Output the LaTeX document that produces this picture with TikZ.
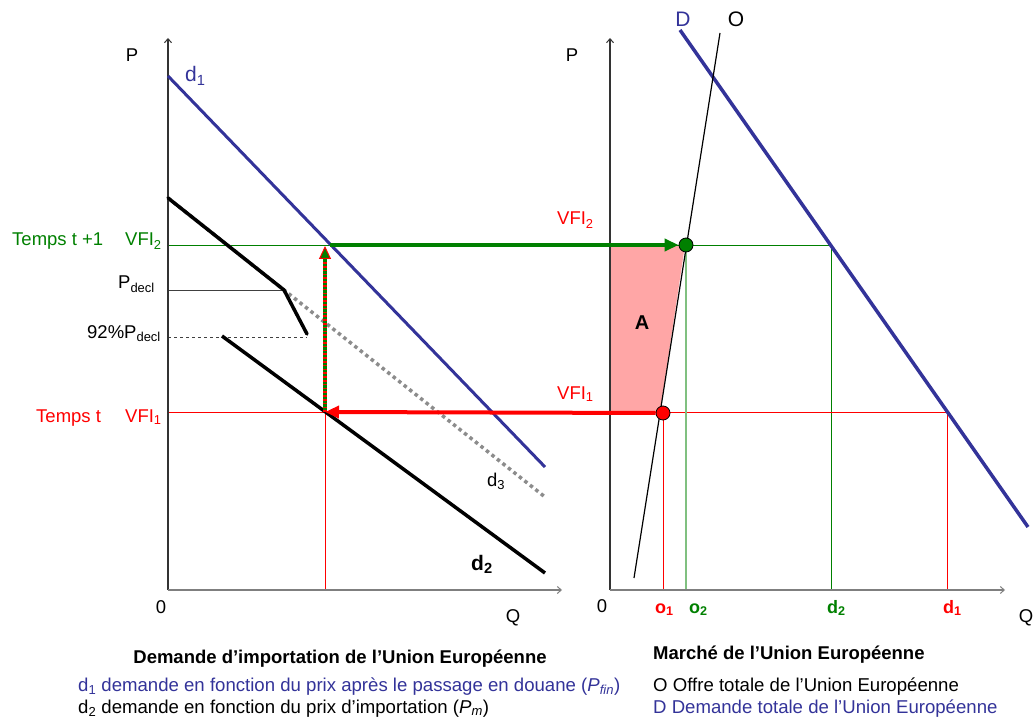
\documentclass[tikz,border=0pt]{standalone}
\usepackage{fontspec}
\setmainfont{Liberation Sans}
\usetikzlibrary{arrows.meta}
\definecolor{dblue}{HTML}{333399}
\definecolor{dgreen}{HTML}{008000}
\definecolor{lgreen}{HTML}{80C080}
\definecolor{vred}{HTML}{FF0000}
\definecolor{paleA}{HTML}{FFA6A6}
\definecolor{axisgray}{HTML}{7F7F7F}
\definecolor{dotgray}{HTML}{8C8C8C}
\newcommand{\ix}[1]{\textsubscript{#1}}
\tikzset{
  lbl/.style={inner sep=0pt,font=\fontsize{18.5}{20}\selectfont},
  big/.style={inner sep=0pt,font=\fontsize{21}{23}\selectfont},
  title/.style={lbl,font=\fontsize{18.5}{20}\selectfont\bfseries},
  legend/.style={lbl,anchor=base west,font=\fontsize{18.6}{20}\selectfont},
  qlbl/.style={lbl,anchor=base west,font=\fontsize{18}{20}\selectfont\bfseries},
  axis/.style={draw=axisgray,line width=1.2pt,-{Straight Barb[length=4pt,width=7pt,line width=1pt]}},
  guide/.style={line width=0.8pt},
  demand/.style={draw=dblue,line width=3pt},
  bold/.style={draw=black,line width=3.5pt},
  dotted3/.style={draw=dotgray,line width=3.5pt,dash pattern=on 3.5pt off 3.5pt},
  garr/.style={draw=dgreen,line width=4pt,-{Triangle[length=14pt,width=12pt]}},
  rarr/.style={draw=vred,line width=4pt,-{Triangle[length=14pt,width=12pt]}},
  eq/.style={circle,minimum size=14pt,inner sep=0pt,draw=black,line width=0.8pt},
}
\begin{document}
\begin{tikzpicture}[x=1pt,y=-1pt]
  \useasboundingbox (0,0) rectangle (1033,719);
  % --- points, left panel
  \coordinate (lo) at (168,590); \coordinate (lp) at (168,38); \coordinate (lq) at (562,590);
  \coordinate (d1a) at (168,76); \coordinate (d1b) at (545,467);
  \coordinate (d3a) at (168,198); \coordinate (kink) at (284,290); \coordinate (kend) at (307,334);
  \coordinate (d3b) at (545,497);
  \coordinate (d2a) at (222,336); \coordinate (d2b) at (545,573);
  \coordinate (pd) at (168,290); \coordinate (pd92) at (168,337); \coordinate (pd92e) at (307,337);
  \coordinate (v2l) at (168,245); \coordinate (v1l) at (168,412);
  \coordinate (t1) at (325,412); \coordinate (t1q) at (325,590);
  \coordinate (t2) at (325,246); \coordinate (t2s) at (325,262);
  \coordinate (g0) at (330,245);
  % --- points, right panel
  \coordinate (ro) at (610,590); \coordinate (rp) at (610,38); \coordinate (rq) at (1005,590);
  \coordinate (Oa) at (634,578); \coordinate (Ob) at (720,33);
  \coordinate (Da) at (680,30); \coordinate (Db) at (1028,527);
  \coordinate (a2) at (610,245); \coordinate (a1) at (610,412);
  \coordinate (ao2) at (685,245); \coordinate (ao1) at (660,412);
  \coordinate (o1q) at (663,590); \coordinate (o2q) at (686,590);
  \coordinate (dd2) at (831,245); \coordinate (dd2q) at (831,590);
  \coordinate (dd1) at (947,412); \coordinate (dd1q) at (947,590);

  % area A
  \fill[paleA] (a2) -- (ao2) -- (ao1) -- (a1) -- cycle;

  % guide lines
  \draw[guide,draw=dgreen] (v2l) -- (dd2) -- (dd2q);
  \draw[guide,draw=vred] (v1l) -- (dd1) -- (dd1q);
  \draw[guide,draw=vred] (t1) -- (t1q);
  \draw[guide,draw=vred] (663,413) -- (o1q);
  \draw[guide,draw=lgreen,line width=1.2pt] (686,245) -- (o2q);
  \draw[guide,draw=black!75] (pd) -- (kink);
  \draw[guide,draw=black!75,dashed] (pd92) -- (pd92e);

  % axes
  \draw[axis,draw=black!80] (lo) -- (lp);
  \draw[axis] (lo) -- (lq);
  \draw[axis,draw=black!80] (ro) -- (rp);
  \draw[axis] (ro) -- (rq);

  % curves
  \draw[dotted3] (d3a) -- (d3b);
  \draw[bold,line cap=round,line join=round] (d3a) -- (kink) -- (kend);
  \draw[bold] (d2a) -- (d2b);
  \draw[demand] (d1a) -- (d1b);
  \draw[demand,line width=3.5pt] (Da) -- (Db);
  \draw[line width=1.2pt] (Oa) -- (Ob);

  % equilibria and moves
  \node[eq,fill=dgreen] (e2) at (686,245) {};
  \node[eq,fill=vred] (e1) at (663,413) {};
  \draw[garr] (g0) -- (e2.west);
  \draw[rarr] (e1.west) -- (t1);
  \draw[draw=dgreen,line width=4.5pt,-{Triangle[length=13pt,width=12pt,color=vred,fill=dgreen,line width=1pt]}] (t1) -- (t2);
  \draw[vred,line width=4.5pt,dash pattern=on 1.6pt off 2.2pt] (t1) -- (t2s);

  % labels, left panel
  \node[lbl,anchor=base] (lP) at (132,62) {P};
  \node[lbl,anchor=base] (l0) at (161,613) {0};
  \node[lbl,anchor=base] (lQ) at (513,622) {Q};
  \node[big,anchor=base west,text=dblue] (ld1) at (185,82) {d\ix{1}};
  \node[lbl,anchor=base west] (ld3) at (487,486) {d\ix{3}};
  \node[big,anchor=base west,font=\fontsize{21}{23}\selectfont\bfseries] (ld2) at (471,570) {d\ix{2}};
  \node[lbl,anchor=base west,text=dgreen] (tt1) at (12,246) {Temps t +1};
  \node[lbl,anchor=base west,text=dgreen] (lv2) at (125,246) {VFI\ix{2}};
  \node[lbl,anchor=base west] (lpd) at (118,289) {P\ix{decl}};
  \node[lbl,anchor=base west] (lpd92) at (87,338) {92\%P\ix{decl}};
  \node[lbl,anchor=base west,text=vred] (tt0) at (36,422) {Temps t};
  \node[lbl,anchor=base west,text=vred] (lv1) at (125,422) {VFI\ix{1}};

  % labels, right panel
  \node[lbl,anchor=base] (rP) at (572,62) {P};
  \node[lbl,anchor=base] (r0) at (602,612) {0};
  \node[lbl,anchor=base] (rQ) at (1026,622) {Q};
  \node[big,anchor=base,text=dblue] (rD) at (683,27) {D};
  \node[big,anchor=base] (rO) at (736,27) {O};
  \node[lbl,anchor=base west,text=vred] (rv2) at (557,225) {VFI\ix{2}};
  \node[lbl,anchor=base west,text=vred] (rv1) at (557,399) {VFI\ix{1}};
  \node[big,font=\fontsize{20}{22}\selectfont\bfseries] (lA) at (642,323) {A};
  \node[qlbl,text=vred] (xo1) at (655,613) {o\ix{1}};
  \node[qlbl,text=dgreen] (xo2) at (689,613) {o\ix{2}};
  \node[qlbl,text=dgreen] (xd2) at (827,613) {d\ix{2}};
  \node[qlbl,text=vred] (xd1) at (943,613) {d\ix{1}};

  % captions
  \node[title,anchor=base] (capL) at (340,663) {Demande d’importation de l’Union Européenne};
  \node[legend,text=dblue] (legd1) at (78,691) {d\ix{1} demande en fonction du prix après le passage en douane (\textit{P}\ix{\textit{fin}})};
  \node[legend] (legd2) at (78,713) {d\ix{2} demande en fonction du prix d’importation (\textit{P}\ix{\textit{m}})};
  \node[title,anchor=base west] (capR) at (653,659) {Marché de l’Union Européenne};
  \node[legend] (legO) at (653,691) {O Offre totale de l’Union Européenne};
  \node[legend,text=dblue] (legD) at (653,713) {D Demande totale de l’Union Européenne};
\end{tikzpicture}
\end{document}
